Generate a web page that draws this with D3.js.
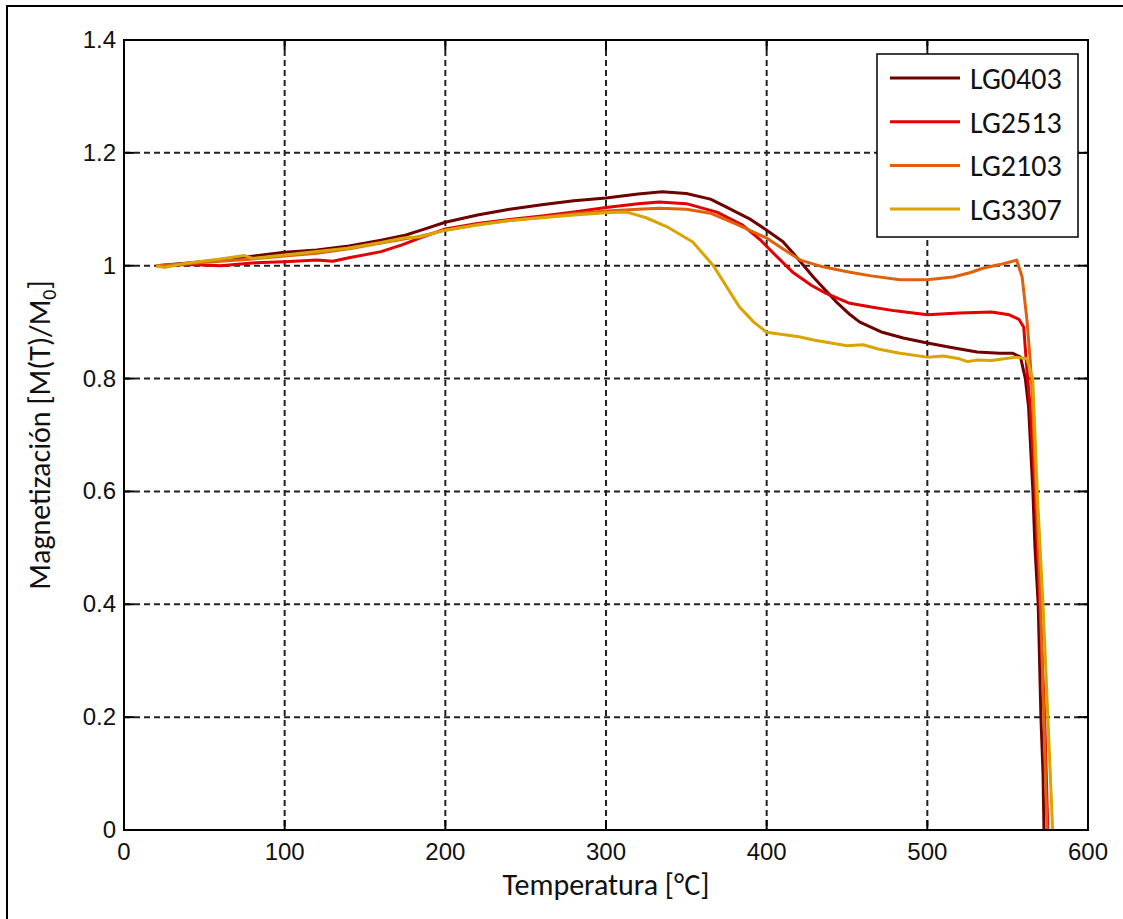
<!DOCTYPE html>
<html>
<head>
<meta charset="utf-8">
<script src="https://cdn.jsdelivr.net/npm/d3@7"></script>
<style>
  body { margin: 0; background: #fff; }
  svg { display: block; }
</style>
</head>
<body>
<svg id="chart" width="1123" height="919"></svg>
<script>
// temperatures (°C) and M(T)/M0
var seriesNames = ['LG0403', 'LG2513', 'LG2103', 'LG3307']

var tempLG0403 = [20, 40, 60, 80, 100, 120, 140, 160, 175, 185, 200, 220, 240, 260, 280, 300, 320, 335, 350, 365, 375, 390, 400, 410, 416, 429, 444, 452, 458, 472, 485, 500, 515, 531, 545, 553, 558, 561, 563, 565.7, 567, 569, 570.7, 572, 572.6]
var magLG0403 = [1.0, 1.005, 1.01, 1.017, 1.024, 1.028, 1.035, 1.045, 1.054, 1.063, 1.077, 1.09, 1.1, 1.108, 1.115, 1.12, 1.127, 1.131, 1.128, 1.118, 1.104, 1.082, 1.063, 1.043, 1.024, 0.98, 0.934, 0.913, 0.9, 0.882, 0.872, 0.863, 0.855, 0.847, 0.845, 0.845, 0.838, 0.8, 0.75, 0.6, 0.5, 0.4, 0.2, 0.1, 0]

var tempLG2513 = [20, 40, 60, 80, 100, 120, 130, 140, 160, 173, 184, 200, 220, 240, 260, 280, 300, 320, 333, 350, 369, 385, 396, 405, 416, 428, 437, 451, 465, 480, 500, 520, 540, 551, 557, 560, 562, 564, 567, 570, 573, 575]
var magLG2513 = [1.0, 1.002, 1.0, 1.005, 1.007, 1.01, 1.008, 1.014, 1.025, 1.037, 1.049, 1.065, 1.075, 1.082, 1.088, 1.095, 1.103, 1.11, 1.113, 1.11, 1.095, 1.072, 1.046, 1.02, 0.989, 0.965, 0.951, 0.934, 0.927, 0.92, 0.913, 0.916, 0.918, 0.913, 0.905, 0.891, 0.815, 0.75, 0.6, 0.4, 0.2, 0]

var tempLG2103 = [20, 40, 60, 80, 100, 120, 140, 160, 184, 200, 220, 240, 260, 280, 300, 320, 333, 350, 365, 380, 400, 410, 421, 435, 451, 465, 483, 500, 516, 527, 535, 545, 552, 555.6, 559, 562, 564, 565.5, 567, 570, 572.5, 574.5]
var magLG2103 = [1.0, 1.004, 1.008, 1.012, 1.017, 1.022, 1.03, 1.04, 1.052, 1.063, 1.073, 1.08, 1.086, 1.092, 1.097, 1.1, 1.102, 1.1, 1.093, 1.075, 1.049, 1.03, 1.01, 0.998, 0.989, 0.982, 0.975, 0.975, 0.98, 0.988, 0.996, 1.002, 1.007, 1.01, 0.98, 0.904, 0.833, 0.762, 0.65, 0.45, 0.2, 0]

var tempLG3307 = [20, 25, 40, 60, 75, 80, 100, 120, 139, 160, 174, 184, 200, 220, 240, 260, 280, 300, 313, 325, 338, 354, 366.6, 383, 392, 400, 410, 420, 430, 440, 450, 460, 470, 483, 500, 510, 520, 525, 531, 540, 550, 555.6, 562, 564, 565.6, 568.4, 572, 575, 578]
var magLG3307 = [1.0, 0.997, 1.005, 1.012, 1.018, 1.013, 1.019, 1.025, 1.031, 1.041, 1.049, 1.051, 1.063, 1.072, 1.08, 1.085, 1.09, 1.094, 1.095, 1.085, 1.069, 1.042, 1.001, 0.927, 0.9, 0.882, 0.878, 0.874, 0.868, 0.863, 0.858, 0.86, 0.852, 0.845, 0.838, 0.84, 0.835, 0.83, 0.833, 0.832, 0.836, 0.838, 0.835, 0.815, 0.8, 0.6, 0.4, 0.2, 0]

var xTicks = [0, 100, 200, 300, 400, 500, 600]
var yTicks = [0, 0.2, 0.4, 0.6, 0.8, 1, 1.2, 1.4]

var colors = {
  LG0403: '#6e0000',
  LG2513: '#e20000',
  LG2103: '#e0600c',
  LG3307: '#d9a404'
}

var series = [
  { name: 'LG0403', t: tempLG0403, m: magLG0403 },
  { name: 'LG2513', t: tempLG2513, m: magLG2513 },
  { name: 'LG2103', t: tempLG2103, m: magLG2103 },
  { name: 'LG3307', t: tempLG3307, m: magLG3307 }
]

var tickFont = '"Liberation Sans", Arial, sans-serif'
var labelFont = 'Carlito, Calibri, Lato, sans-serif'

var svg = d3.select('#chart')

// outer frame (only left and top visible)
svg.append('path')
  .attr('d', 'M7,919V6H1123')
  .attr('fill', 'none')
  .attr('stroke', '#000')
  .attr('stroke-width', 2)

// plot box (window.top is reserved, so prefixed names)
var pLeft = 124
var pTop = 40
var pRight = 1088
var pBottom = 830

var x = d3.scaleLinear().domain([0, 600]).range([pLeft, pRight])
var y = d3.scaleLinear().domain([0, 1.4]).range([pBottom, pTop])

var grid = svg.append('g')
  .attr('stroke', '#222')
  .attr('stroke-width', 2)
  .attr('stroke-dasharray', '6,4')

grid.selectAll('line.gx')
  .data(xTicks.slice(1, -1))
  .join('line')
  .attr('class', 'gx')
  .attr('x1', (d) => x(d))
  .attr('x2', (d) => x(d))
  .attr('y1', pTop)
  .attr('y2', pBottom)

grid.selectAll('line.gy')
  .data(yTicks.slice(1))
  .join('line')
  .attr('class', 'gy')
  .attr('x1', pLeft)
  .attr('x2', pRight)
  .attr('y1', (d) => y(d))
  .attr('y2', (d) => y(d))

// inward tick marks on all four sides
var tickLen = 10
var ticks = svg.append('g').attr('stroke', '#000').attr('stroke-width', 2)
xTicks.forEach(function (d) {
  ticks.append('line').attr('x1', x(d)).attr('x2', x(d)).attr('y1', pBottom).attr('y2', pBottom - tickLen)
  ticks.append('line').attr('x1', x(d)).attr('x2', x(d)).attr('y1', pTop).attr('y2', pTop + tickLen)
})
yTicks.forEach(function (d) {
  ticks.append('line').attr('x1', pLeft).attr('x2', pLeft + tickLen).attr('y1', y(d)).attr('y2', y(d))
  ticks.append('line').attr('x1', pRight).attr('x2', pRight - tickLen).attr('y1', y(d)).attr('y2', y(d))
})

// curves
var line = d3.line()
  .x((d) => x(d[0]))
  .y((d) => y(d[1]))

svg.append('g')
  .selectAll('path')
  .data(series)
  .join('path')
  .attr('fill', 'none')
  .attr('stroke', (d) => colors[d.name])
  .attr('stroke-width', 3)
  .attr('stroke-linejoin', 'round')
  .attr('d', (d) => line(d.t.map((t, i) => [t, d.m[i]])))

// axes box
svg.append('rect')
  .attr('x', pLeft)
  .attr('y', pTop)
  .attr('width', pRight - pLeft)
  .attr('height', pBottom - pTop)
  .attr('fill', 'none')
  .attr('stroke', '#000')
  .attr('stroke-width', 2)

// tick labels
svg.append('g')
  .selectAll('text')
  .data(xTicks)
  .join('text')
  .attr('x', (d) => x(d))
  .attr('y', pBottom + 30)
  .attr('text-anchor', 'middle')
  .attr('font-family', tickFont)
  .attr('font-size', 24)
  .attr('fill', '#111')
  .text((d) => d)

svg.append('g')
  .selectAll('text')
  .data(yTicks)
  .join('text')
  .attr('x', pLeft - 8)
  .attr('y', (d) => y(d) + 8)
  .attr('text-anchor', 'end')
  .attr('font-family', tickFont)
  .attr('font-size', 24)
  .attr('fill', '#111')
  .text((d) => d3.format('~g')(d))

// axis titles
svg.append('text')
  .attr('x', (pLeft + pRight) / 2)
  .attr('y', 895)
  .attr('text-anchor', 'middle')
  .attr('font-family', labelFont)
  .attr('font-size', 30)
  .attr('fill', '#111')
  .text('Temperatura [°C]')

var yTitle = svg.append('text')
  .attr('transform', 'translate(50,' + (pTop + pBottom) / 2 + ') rotate(-90)')
  .attr('text-anchor', 'middle')
  .attr('font-family', labelFont)
  .attr('font-size', 30)
  .attr('fill', '#111')
yTitle.append('tspan').text('Magnetización [M(T)/M')
yTitle.append('tspan').attr('font-size', 20).attr('dy', 6).text('0')
yTitle.append('tspan').attr('dy', -6).text(']')

// legend
var legend = svg.append('g').attr('transform', 'translate(877,54)')
legend.append('rect')
  .attr('width', 201)
  .attr('height', 183)
  .attr('fill', '#fff')
  .attr('stroke', '#000')
  .attr('stroke-width', 1.5)

var item = legend.selectAll('g')
  .data(seriesNames)
  .join('g')
  .attr('transform', (d, i) => 'translate(0,' + (24 + i * 43.7) + ')')

item.append('line')
  .attr('x1', 13)
  .attr('x2', 83)
  .attr('stroke', (d) => colors[d])
  .attr('stroke-width', 3)

item.append('text')
  .attr('x', 93)
  .attr('y', 11)
  .attr('font-family', labelFont)
  .attr('font-size', 30)
  .attr('fill', '#111')
  .text((d) => d)
</script>
</body>
</html>
